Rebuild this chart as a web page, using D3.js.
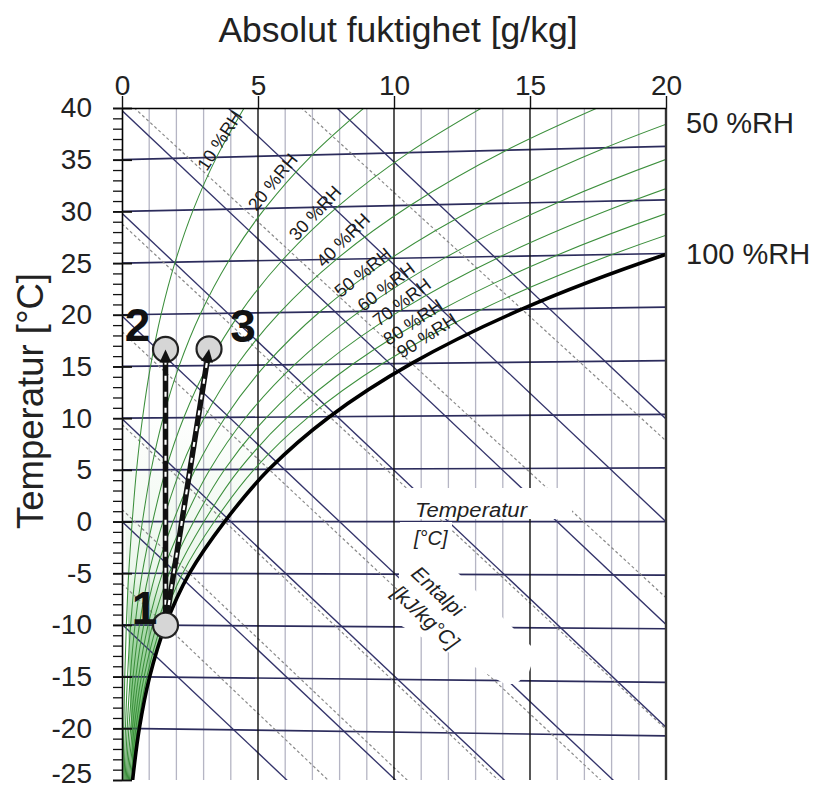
<!DOCTYPE html>
<html>
<head>
<meta charset="utf-8">
<script src="https://cdn.jsdelivr.net/npm/d3@7/dist/d3.min.js"></script>
<style>
html,body{margin:0;padding:0;background:#fff;}
svg{display:block;font-family:'Liberation Sans',Arial,sans-serif;}
</style>
</head>
<body>
<svg id="chart" width="818" height="790"></svg>
<script>
// ================= DATA =================
const temps = [-25,-20,-15,-10,-5,0,5,10,15,20,25,30,35,40];          // °C
const satX  = [0.389,0.636,1.016,1.600,2.477,3.775,5.403,7.632,10.65,14.70,20.09,27.21,36.58,48.89]; // g/kg at 100 %RH
const rhLevels = [10,20,30,40,50,60,70,80,90];
const rh10 = [0.039,0.064,0.101,0.160,0.247,0.375,0.536,0.755,1.049,1.439,1.952,2.618,3.475,4.566];
const rh20 = [0.078,0.127,0.203,0.319,0.494,0.751,1.073,1.512,2.101,2.885,3.916,5.258,6.988,9.200];
const rh30 = [0.117,0.191,0.304,0.479,0.741,1.128,1.611,2.270,3.157,4.338,5.893,7.920,10.541,13.903];
const rh40 = [0.156,0.254,0.406,0.639,0.988,1.504,2.150,3.031,4.217,5.797,7.882,10.605,14.135,18.676];
const rh50 = [0.194,0.318,0.508,0.799,1.236,1.882,2.690,3.793,5.280,7.264,9.884,13.314,17.770,23.52];
const rh60 = [0.233,0.382,0.609,0.959,1.484,2.259,3.231,4.557,6.347,8.737,11.898,16.045,21.446,28.44];
const rh70 = [0.272,0.445,0.711,1.119,1.732,2.638,3.772,5.323,7.417,10.217,13.925,18.800,25.16,33.44];
const rh80 = [0.311,0.509,0.812,1.280,1.980,3.016,4.315,6.091,8.491,11.704,15.966,21.579,28.93,38.51];
const rh90 = [0.350,0.572,0.914,1.440,2.228,3.395,4.859,6.860,9.569,13.198,18.019,24.382,32.73,43.66];
const rhSeries = [rh10,rh20,rh30,rh40,rh50,rh60,rh70,rh80,rh90];

const isotherms  = [-20,-15,-10,-5,0,5,10,15,20,25,30,35];   // °C
const enthalpies = [-10,0,10,20,30,40,50,60];                // kJ/kg
const wetBulbT   = [-10,-5,0,5,10,15,20];                    // °C
const wetBulbH0  = [-6.06,1.17,9.44,18.48,28.97,41.35,56.20]; // kJ/kg at 0 g/kg
const wetBulbH20 = [-6.47,0.96,9.44,18.90,29.81,42.61,57.87]; // kJ/kg at 20 g/kg

const xTicks = [0,5,10,15,20];
const yTicks = [-25,-20,-15,-10,-5,0,5,10,15,20,25,30,35,40];
const xMinor = d3.range(0,21,1);
const yMinor = d3.range(-25,41,1);

const stateNames = ["1","2","3"];
const stateX = [1.6,1.6,3.2];
const stateT = [-10,16.6,16.6];
const moves = [[0,1],[0,2]];

// ================= LAYOUT =================
const FONT = "'Liberation Sans',Arial,sans-serif";
const svg = d3.select('#chart');
const x = d3.scaleLinear().domain([0,20]).range([122,666]);
const y = d3.scaleLinear().domain([-25,40]).range([780,108]);
const tilt = 0.00185;                       // isotherm tilt of the chart
const py = (xv,t) => y(t*(1+tilt*xv));      // position of (x, T)
const hy = (xv,h) => y((h-2.501*xv)/1.006); // position on an enthalpy line

svg.append('rect').attr('width',818).attr('height',790).attr('fill','#fff');
svg.append('clipPath').attr('id','plot').append('rect')
  .attr('x',x(0)).attr('y',y(40)).attr('width',x(20)-x(0)).attr('height',y(-25)-y(40));
const g = svg.append('g').attr('clip-path','url(#plot)');
const line = d3.line();

// minor verticals
g.selectAll('.vmin').data(xMinor.filter(d=>d%5!==0)).join('line')
  .attr('x1',d=>x(d)).attr('x2',d=>x(d)).attr('y1',y(40)).attr('y2',y(-25))
  .attr('stroke','#b5b5c4').attr('stroke-width',1.3);

// green tint under the dense RH curves
const defs = svg.append('defs');
const grad = defs.append('linearGradient').attr('id','gw').attr('x1',0).attr('x2',0).attr('y1',0).attr('y2',1);
grad.append('stop').attr('offset','0%').attr('stop-color','#5cb85c').attr('stop-opacity',0.0);
grad.append('stop').attr('offset','45%').attr('stop-color','#5cb85c').attr('stop-opacity',0.12);
grad.append('stop').attr('offset','58%').attr('stop-color','#4caf50').attr('stop-opacity',0.45);
grad.append('stop').attr('offset','100%').attr('stop-color','#34a034').attr('stop-opacity',0.9);
const satPts = temps.map((t,i)=>[x(satX[i]),py(satX[i],t)]);
g.append('path')
  .attr('d', d3.line().curve(d3.curveCatmullRom)(satPts.slice(0,8).concat([[x(0),py(0,10)]])))
  .attr('fill','url(#gw)');

// isotherms
g.selectAll('.iso').data(isotherms).join('path')
  .attr('d',t=>line([[x(0),py(0,t)],[x(20),py(20,t)]]))
  .attr('stroke','#2c2c5c').attr('stroke-width',1.7).attr('fill','none');

// wet bulb (dashed)
g.selectAll('.wb').data(wetBulbT).join('path')
  .attr('d',(t,i)=>line([[x(0),hy(0,wetBulbH0[i])],[x(20),hy(20,wetBulbH20[i])]]))
  .attr('stroke','#8a8a8a').attr('stroke-width',1.2).attr('stroke-dasharray','3,2.5').attr('fill','none');

// enthalpy lines
g.selectAll('.h').data(enthalpies).join('path')
  .attr('d',h=>line([[x(0),hy(0,h)],[x(20),hy(20,h)]]))
  .attr('stroke','#33336a').attr('stroke-width',1.35).attr('fill','none');

// major verticals
g.selectAll('.vmaj').data(xTicks.slice(1,4)).join('line')
  .attr('x1',d=>x(d)).attr('x2',d=>x(d)).attr('y1',y(40)).attr('y2',y(-25))
  .attr('stroke','#111').attr('stroke-width',1.4);

// RH curves
const curve = d3.line().curve(d3.curveCatmullRom.alpha(0.5));
g.selectAll('.rh').data(rhSeries).join('path')
  .attr('d',s=>curve(temps.map((t,i)=>[x(s[i]),py(s[i],t)])))
  .attr('stroke','#3c8f3c').attr('stroke-width',1.05).attr('fill','none');

// saturation curve
g.append('path').attr('d',curve(satPts))
  .attr('stroke','#000').attr('stroke-width',3.6).attr('fill','none');

// right border
svg.append('line').attr('x1',x(20)).attr('x2',x(20)).attr('y1',y(40)).attr('y2',y(-25))
  .attr('stroke','#333').attr('stroke-width',2.4);

// ---- white note boxes + italic notes ----
const notes = svg.append('g').attr('font-style','italic').attr('fill','#222');
notes.append('rect').attr('x',405).attr('y',488).attr('width',167).attr('height',31).attr('fill','#fff');
notes.append('polygon').attr('points','400,522 452,522 452,567 536,651 529,672 516,684 505,684 398,624').attr('fill','#fff');
notes.append('text').attr('x',415).attr('y',517).attr('font-size',20).attr('textLength',112).attr('lengthAdjust','spacingAndGlyphs').text('Temperatur');
notes.append('text').attr('x',414).attr('y',545).attr('font-size',20).text('[°C]');
notes.append('text').attr('transform','translate(438,591) rotate(43)').attr('text-anchor','middle')
  .attr('dominant-baseline','central').attr('font-size',20.5).text('Entalpi');
notes.append('text').attr('transform','translate(426,617) rotate(43)').attr('text-anchor','middle')
  .attr('dominant-baseline','central').attr('font-size',20.5).text('[kJ/kg°C]');

// ---- axes ----
const yMinorAxis = d3.axisLeft(y).tickValues(yMinor).tickSize(9).tickSizeOuter(0).tickFormat('');
svg.append('g').attr('transform',`translate(${x(0)},0)`).call(yMinorAxis)
  .call(a=>a.selectAll('line').attr('stroke','#111').attr('stroke-width',1.3))
  .call(a=>a.select('.domain').attr('stroke','#000').attr('stroke-width',1.6));
const yAxis = d3.axisLeft(y).tickValues(yTicks).tickSize(9).tickSizeOuter(0).tickPadding(21).tickFormat(d=>String(d));
svg.append('g').attr('transform',`translate(${x(0)},0)`).call(yAxis)
  .call(a=>a.select('.domain').remove())
  .call(a=>a.selectAll('line').attr('x1',10).attr('stroke','#111').attr('stroke-width',1.8))
  .call(a=>a.selectAll('text').attr('font-size',28).attr('fill','#222').attr('font-family',FONT))
  .call(a=>a.selectAll('text').filter(d=>d===-25).attr('dy','0.08em'));
const xAxis = d3.axisTop(x).tickValues(xTicks).tickSize(12).tickSizeOuter(0).tickPadding(1).tickFormat(d=>String(d));
svg.append('g').attr('transform',`translate(0,${y(40)})`).call(xAxis)
  .call(a=>a.select('.domain').attr('stroke','#000').attr('stroke-width',1.6))
  .call(a=>a.selectAll('line').attr('stroke','#111').attr('stroke-width',1.4))
  .call(a=>a.selectAll('text').attr('font-size',28).attr('fill','#222').attr('font-family',FONT));

// titles
svg.append('text').attr('x',398).attr('y',42).attr('text-anchor','middle').attr('font-size',35.5).attr('fill','#222')
  .text('Absolut fuktighet [g/kg]');
svg.append('text').attr('transform','translate(43,401) rotate(-90)').attr('text-anchor','middle').attr('font-size',36.5).attr('fill','#222')
  .text('Temperatur [°C]');

// right-hand RH labels at the end of the 50 % and 100 % curves
svg.append('text').attr('x',686).attr('y',py(20,37.2)).attr('dy','0.35em').attr('font-size',29).attr('fill','#222').text('50 %RH');
svg.append('text').attr('x',686).attr('y',py(20,25.0)).attr('dy','0.35em').attr('font-size',29).attr('fill','#222').text('100 %RH');

// RH labels along the curves: [x g/kg, T °C, angle]
const rhLabelPlace = [[3.60,36.6,-57],[5.55,32.5,-51],[7.10,29.45,-47],[8.13,26.8,-45],[8.86,23.7,-39],
                      [9.71,22.3,-38],[10.29,20.8,-37],[10.70,18.9,-34],[11.21,17.6,-33]];
svg.append('g').selectAll('text').data(rhLevels).join('text')
  .attr('transform',(d,i)=>`translate(${x(rhLabelPlace[i][0])},${py(rhLabelPlace[i][0],rhLabelPlace[i][1])}) rotate(${rhLabelPlace[i][2]})`)
  .attr('text-anchor','middle').attr('dominant-baseline','central')
  .attr('font-size',18).attr('fill','#1a1a1a').text(d=>`${d} %RH`);

// ---- states and moves ----
const sx = i=>x(stateX[i]), sy = i=>py(stateX[i],stateT[i]);
const R = 12.5;
svg.append('g').selectAll('circle').data(stateNames).join('circle')
  .attr('cx',(d,i)=>sx(i)).attr('cy',(d,i)=>sy(i)).attr('r',R)
  .attr('fill','#d6d6d6').attr('stroke','#222').attr('stroke-width',2.2);

const mv = svg.append('g');
moves.forEach(([a,b])=>{
  const x1=sx(a), y1=sy(a), x2=sx(b), y2=sy(b);
  const L=Math.hypot(x2-x1,y2-y1), ux=(x2-x1)/L, uy=(y2-y1)/L;
  const sX=x1+ux*R, sY=y1+uy*R;
  const head=13, hw=6;
  const bX=x2-ux*head, bY=y2-uy*head;
  mv.append('line').attr('x1',sX).attr('y1',sY).attr('x2',bX).attr('y2',bY)
    .attr('stroke','#111').attr('stroke-width',5.5);
  mv.append('line').attr('x1',sX).attr('y1',sY).attr('x2',bX).attr('y2',bY)
    .attr('stroke','#fff').attr('stroke-width',2.2).attr('stroke-dasharray','5,11').attr('stroke-dashoffset',-8);
  mv.append('path').attr('d',`M${x2},${y2}L${bX-uy*hw},${bY+ux*hw}L${bX+uy*hw},${bY-ux*hw}Z`).attr('fill','#111');
});

const labOff = [[-21,-1],[-28,-8],[34,-7]];
svg.append('g').selectAll('text').data(stateNames).join('text')
  .attr('x',(d,i)=>sx(i)+labOff[i][0]).attr('y',(d,i)=>sy(i)+labOff[i][1])
  .attr('text-anchor','middle').attr('font-size',46).attr('font-weight','bold').attr('fill','#111').text(d=>d);
</script>
</body>
</html>
